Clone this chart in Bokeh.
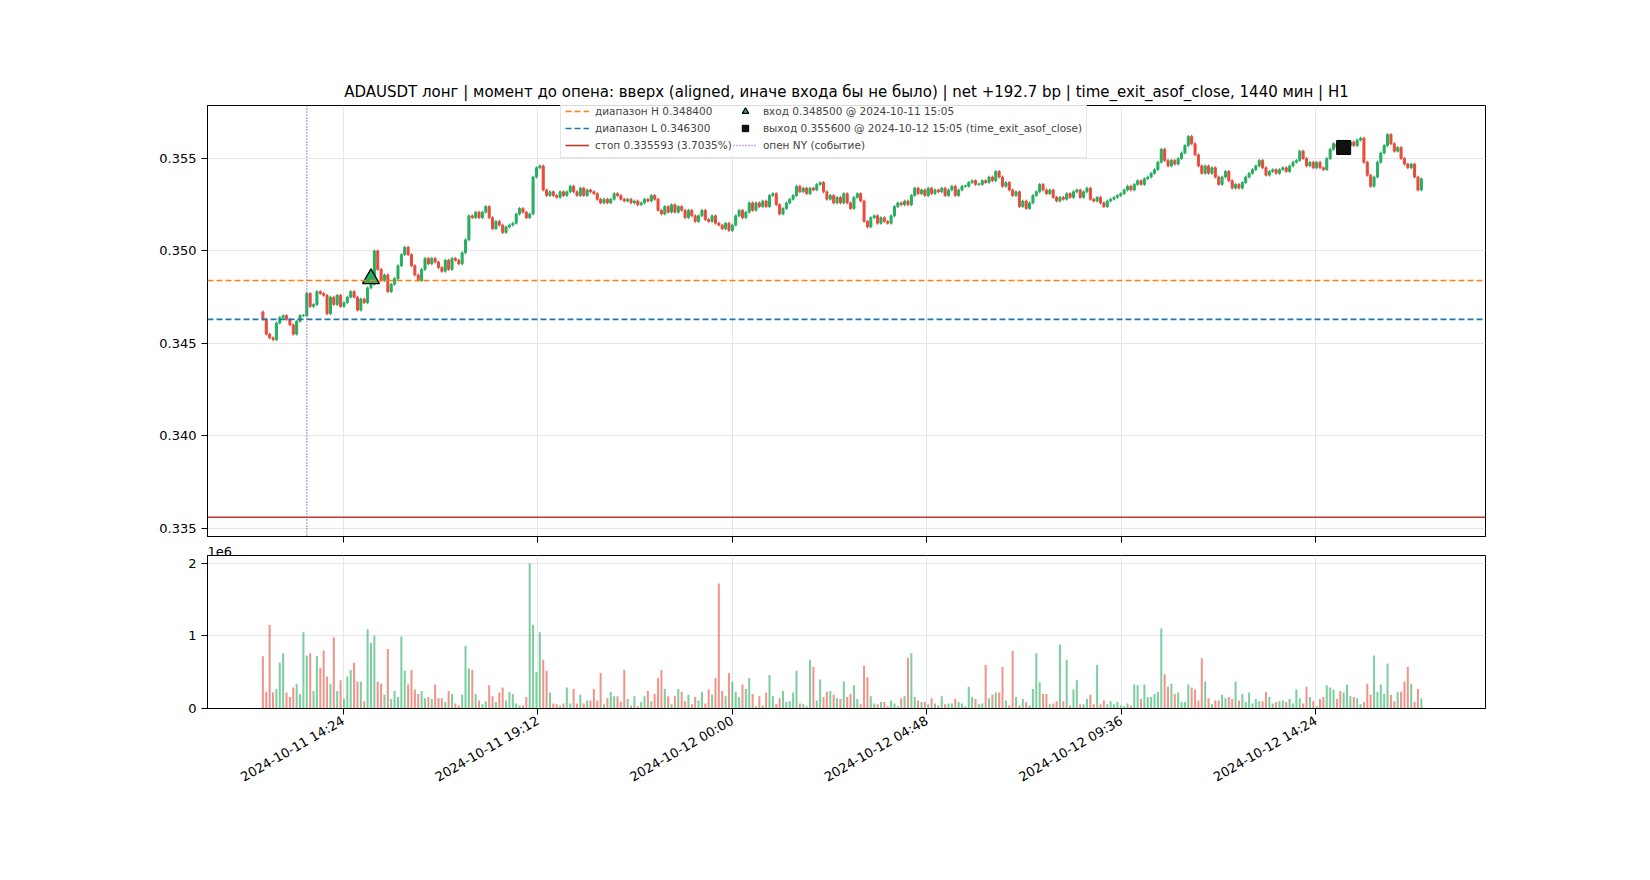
import numpy as np
import pandas as pd
from bokeh.plotting import figure
from bokeh.layouts import column
from bokeh.models import (ColumnDataSource, Span, Legend, LegendItem, FixedTicker,
                          Range1d, NumeralTickFormatter)
from bokeh.embed import file_html
from bokeh.resources import INLINE

start_time = "2024-10-11 12:25"
first_open = 0.3467
closes_e4 = [
3463,3455,3453,3452,3461,3464,3465,3463,3460,3455,
3462,3465,3465,3477,3470,3471,3478,3477,3476,3466,
3475,3471,3476,3470,3472,3475,3478,3475,3468,3474,
3472,3480,3482,3500,3490,3484,3487,3478,3482,3485,
3492,3498,3502,3498,3492,3487,3484,3490,3496,3493,
3496,3494,3491,3489,3495,3490,3496,3495,3493,3499,
3506,3519,3518,3521,3518,3521,3524,3518,3512,3516,
3514,3510,3513,3514,3515,3520,3523,3521,3518,3520,
3540,3545,3546,3533,3530,3532,3530,3529,3532,3530,
3532,3535,3532,3530,3534,3530,3533,3532,3531,3528,
3526,3528,3526,3528,3531,3530,3528,3527,3528,3526,
3527,3525,3526,3528,3527,3530,3528,3522,3520,3524,
3521,3525,3521,3524,3522,3518,3522,3519,3516,3519,
3522,3517,3516,3519,3515,3514,3512,3515,3511,3514,
3519,3522,3518,3521,3526,3522,3526,3524,3527,3524,
3530,3531,3525,3520,3523,3526,3528,3530,3535,3532,
3534,3531,3534,3533,3536,3537,3532,3528,3530,3526,
3529,3526,3531,3526,3523,3529,3531,3527,3516,3513,
3518,3519,3515,3518,3516,3515,3519,3524,3526,3525,
3527,3525,3530,3534,3531,3533,3530,3534,3531,3533,
3532,3534,3530,3533,3535,3530,3533,3535,3535,3537,
3538,3536,3536,3538,3537,3540,3538,3543,3540,3535,
3537,3533,3530,3532,3524,3527,3523,3526,3530,3532,
3536,3533,3531,3533,3529,3527,3529,3528,3531,3529,
3532,3533,3529,3532,3534,3528,3527,3529,3526,3524,
3527,3528,3529,3530,3531,3533,3535,3533,3536,3538,
3536,3539,3540,3542,3544,3548,3555,3549,3546,3549,
3547,3550,3553,3557,3562,3558,3552,3546,3542,3546,
3542,3545,3540,3536,3540,3543,3538,3534,3536,3534,
3537,3540,3542,3544,3546,3549,3545,3541,3543,3544,
3542,3544,3545,3543,3546,3548,3549,3554,3550,3546,
3548,3545,3548,3545,3544,3550,3555,3558,3556,3554,
3556,3557,3559,3557,3560,3561,3548,3541,3535,3540,
3548,3553,3557,3563,3558,3554,3556,3550,3547,3545,
3547,3540,3533,3539]
volumes_m = [
0.72,0.23,1.15,0.22,0.27,0.63,0.76,0.22,0.16,0.29,
0.34,0.20,1.05,0.73,0.76,0.24,0.72,0.56,0.80,0.44,
0.34,0.98,0.24,0.39,0.13,0.44,0.53,0.63,0.37,0.37,
0.10,1.09,0.90,1.00,0.37,0.34,0.19,0.82,0.13,0.24,
0.16,0.99,0.52,0.33,0.53,0.26,0.20,0.24,0.14,0.16,
0.13,0.33,0.14,0.14,0.09,0.24,0.20,0.07,0.04,0.19,
0.86,0.55,0.53,0.20,0.11,0.06,0.10,0.32,0.17,0.09,
0.22,0.29,0.11,0.23,0.20,0.07,0.04,0.04,0.16,2.00,
1.15,0.50,1.05,0.67,0.52,0.22,0.07,0.06,0.04,0.07,
0.29,0.07,0.27,0.07,0.19,0.07,0.11,0.11,0.27,0.11,
0.49,0.06,0.14,0.23,0.17,0.17,0.09,0.53,0.13,0.04,
0.17,0.03,0.09,0.17,0.24,0.10,0.20,0.42,0.53,0.27,
0.17,0.06,0.17,0.27,0.23,0.10,0.19,0.06,0.16,0.11,
0.23,0.07,0.26,0.19,0.42,1.72,0.24,0.17,0.49,0.37,
0.23,0.16,0.33,0.27,0.42,0.20,0.03,0.17,0.04,0.22,
0.46,0.17,0.06,0.14,0.24,0.09,0.10,0.22,0.52,0.07,
0.06,0.03,0.67,0.57,0.11,0.40,0.16,0.23,0.24,0.19,
0.14,0.13,0.37,0.16,0.20,0.32,0.13,0.06,0.59,0.43,
0.17,0.07,0.06,0.09,0.09,0.03,0.11,0.07,0.03,0.14,
0.17,0.70,0.76,0.16,0.11,0.09,0.09,0.06,0.14,0.07,
0.04,0.17,0.06,0.07,0.07,0.13,0.09,0.07,0.03,0.30,
0.16,0.13,0.06,0.07,0.60,0.14,0.19,0.22,0.22,0.57,
0.11,0.04,0.79,0.16,0.04,0.13,0.09,0.04,0.27,0.76,
0.36,0.20,0.20,0.06,0.07,0.10,0.88,0.10,0.67,0.04,
0.26,0.39,0.06,0.06,0.13,0.19,0.06,0.60,0.06,0.11,
0.06,0.10,0.06,0.09,0.04,0.03,0.07,0.04,0.33,0.32,
0.13,0.33,0.16,0.16,0.20,0.23,1.10,0.47,0.30,0.34,
0.20,0.22,0.09,0.09,0.33,0.29,0.26,0.11,0.69,0.37,
0.14,0.06,0.11,0.11,0.19,0.14,0.16,0.13,0.37,0.11,
0.20,0.09,0.22,0.07,0.13,0.10,0.10,0.23,0.16,0.07,
0.09,0.10,0.11,0.09,0.13,0.07,0.26,0.14,0.07,0.30,
0.16,0.10,0.03,0.13,0.16,0.32,0.29,0.26,0.13,0.24,
0.22,0.33,0.17,0.16,0.14,0.06,0.09,0.34,0.19,0.73,
0.23,0.33,0.20,0.62,0.19,0.10,0.23,0.23,0.37,0.57,
0.34,0.09,0.27,0.14]
range_h = 0.348400
range_l = 0.346300
stop = 0.335593
entry_time, entry_price = "2024-10-11 15:05", 0.348500
exit_time, exit_price = "2024-10-12 15:05", 0.355600
ny_open = "2024-10-11 13:30"
tick_labels = ["2024-10-11 14:24", "2024-10-11 19:12", "2024-10-12 00:00",
               "2024-10-12 04:48", "2024-10-12 09:36", "2024-10-12 14:24"]
price_ticks = [0.335, 0.340, 0.345, 0.350, 0.355]
title = "ADAUSDT лонг | момент до опена: вверх (aligned, иначе входа бы не было) | net +192.7 bp | time_exit_asof_close, 1440 мин | H1"

def ms(s):
    return pd.Timestamp(s).value / 1e6

n = len(closes_e4)
close = np.array(closes_e4) / 10000.0
open_ = np.concatenate([[first_open], close[:-1]])
t = np.array([ms(start_time) + i * 300000 for i in range(n)])
up = close >= open_
GREEN, RED = "#27ae60", "#e74c3c"
col = np.where(up, GREEN, RED)
hi = np.maximum(open_, close) + 0.00008
lo = np.minimum(open_, close) - 0.00008
bot = np.minimum(open_, close)
top = np.maximum(open_, close)
top = np.where(top - bot < 0.00003, bot + 0.00003, top)
src = ColumnDataSource(dict(t=t, hi=hi, lo=lo, top=top, bot=bot, col=col,
                            vol=np.array(volumes_m) * 1e6))

FONT = "DejaVu Sans"
xr = Range1d(ms("2024-10-11 11:03"), ms("2024-10-12 18:35"))
ticks = [ms(s) for s in tick_labels]

def style(p):
    p.outline_line_color = "black"
    p.outline_line_width = 1
    p.grid.grid_line_color = "#e6e6e6"
    for ax in p.axis:
        ax.major_label_text_font = FONT
        ax.major_label_text_font_size = "13px"
        ax.major_label_text_color = "black"
        ax.axis_line_color = "black"
        ax.major_tick_line_color = "black"
        ax.major_tick_out = 6
        ax.major_tick_in = 0
        ax.minor_tick_line_color = None

p = figure(width=1634, height=544, x_range=xr, y_range=Range1d(0.33455, 0.35787),
           output_backend="svg", toolbar_location=None,
           min_border_left=207, min_border_right=149, min_border_top=105, min_border_bottom=8)
p.title.text = title
p.title.align = "center"
p.title.text_font = FONT
p.title.text_font_size = "15px"
p.title.text_font_style = "normal"
p.title.text_color = "black"
p.xaxis.ticker = FixedTicker(ticks=ticks)
p.yaxis.ticker = FixedTicker(ticks=price_ticks)
p.yaxis.formatter = NumeralTickFormatter(format="0.000")
style(p)
p.xaxis.major_label_text_font_size = "0px"

p.segment("t", "hi", "t", "lo", color="col", line_width=1, source=src)
p.vbar(x="t", top="top", bottom="bot", width=180000, fill_color="col", line_color="col", source=src)

p.add_layout(Span(location=range_h, dimension="width", line_color="#ff7f0e", line_dash="6 3", line_width=1.6))
p.add_layout(Span(location=range_l, dimension="width", line_color="#1f77b4", line_dash="6 3", line_width=1.6))
p.add_layout(Span(location=stop, dimension="width", line_color="#c0392b", line_width=1.6))
p.add_layout(Span(location=ms(ny_open), dimension="height", line_color="#9b59b6", line_dash="1 2", line_width=1.5))

nan_src = ColumnDataSource(dict(x=[np.nan], y=[np.nan]))
rh = p.line("x", "y", source=nan_src, line_color="#ff7f0e", line_dash="6 3", line_width=1.6)
rl = p.line("x", "y", source=nan_src, line_color="#1f77b4", line_dash="6 3", line_width=1.6)
rs = p.line("x", "y", source=nan_src, line_color="#c0392b", line_width=1.6)
re = p.scatter([ms(entry_time)], [entry_price], marker="triangle", size=17,
               fill_color="#27ae60", line_color="black", line_width=1.2)
rx = p.scatter([ms(exit_time)], [exit_price], marker="square", size=14,
               fill_color="#111111", line_color="black")
rn = p.line("x", "y", source=nan_src, line_color="#9b59b6", line_dash="1 2", line_width=1.5)

leg = Legend(items=[
    LegendItem(label="диапазон H 0.348400", renderers=[rh]),
    LegendItem(label="диапазон L 0.346300", renderers=[rl]),
    LegendItem(label="стоп 0.335593 (3.7035%)", renderers=[rs]),
    LegendItem(label="вход 0.348500 @ 2024-10-11 15:05", renderers=[re]),
    LegendItem(label="выход 0.355600 @ 2024-10-12 15:05 (time_exit_asof_close)", renderers=[rx]),
    LegendItem(label="опен NY (событие)", renderers=[rn]),
], location=(353, 378), orientation="vertical", nrows=3,
    label_text_font=FONT, label_text_font_size="10.5px", label_height=14,
    glyph_height=16, glyph_width=24, spacing=1, padding=4, margin=0,
    border_line_color="#cccccc", background_fill_alpha=0.85, label_standoff=6)
p.add_layout(leg)

v = figure(width=1634, height=256, x_range=xr, y_range=Range1d(0, 2.106e6),
           output_backend="svg", toolbar_location=None,
           min_border_left=207, min_border_right=149, min_border_top=0, min_border_bottom=92)
v.title.text = "1e6"
v.title.align = "left"
v.title.text_font = FONT
v.title.text_font_size = "13px"
v.title.text_font_style = "normal"
v.title.text_color = "black"
v.title.standoff = 0
v.title.offset = 0
v.vbar(x="t", top="vol", width=180000, fill_color="col", line_color=None, fill_alpha=0.6, source=src)
v.xaxis.ticker = FixedTicker(ticks=ticks)
v.xaxis.major_label_overrides = {tk: lb for tk, lb in zip(ticks, tick_labels)}
v.xaxis.major_label_orientation = np.pi / 6
v.yaxis.ticker = FixedTicker(ticks=[0, 1e6, 2e6])
v.yaxis.major_label_overrides = {0: "0", 1000000: "1", 2000000: "2"}
style(v)

layout = column(p, v, spacing=0)
open("out.html", "w").write(file_html(layout, INLINE))
